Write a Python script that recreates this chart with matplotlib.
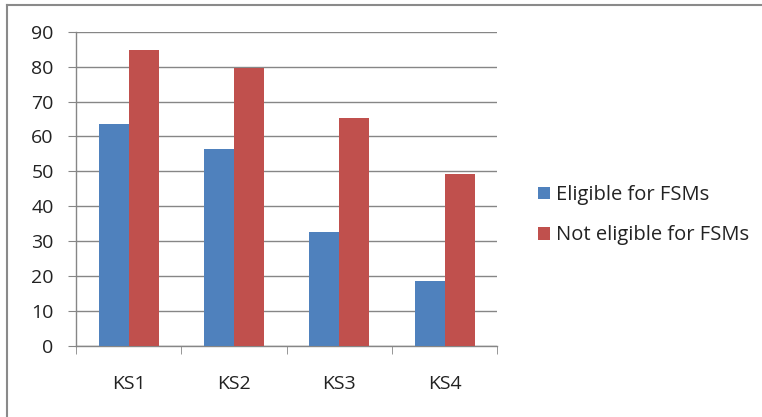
import numpy as np
import matplotlib
matplotlib.use('Agg')
import matplotlib.pyplot as plt
from matplotlib.lines import Line2D

# chart data
categories = ['KS1', 'KS2', 'KS3', 'KS4']
eligible = [63.6, 56.5, 32.7, 18.6]
not_eligible = [84.8, 79.7, 65.2, 49.2]
series_names = ['Eligible for FSMs', 'Not eligible for FSMs']

plt.rcParams['font.family'] = ['Open Sans', 'DejaVu Sans']

fig = plt.figure(figsize=(7.62, 4.17), dpi=100)
ax = fig.add_axes([0.0997, 0.170, 0.5529, 0.754])

grey = '#868686'
x = np.arange(len(categories))
w = 0.285
ax.bar(x - w / 2, eligible, w, color='#4F81BD', label=series_names[0], zorder=3)
ax.bar(x + w / 2, not_eligible, w, color='#C0504D', label=series_names[1], zorder=3)

ax.set_xlim(-0.5, len(categories) - 0.5)
ax.set_ylim(0, 90)
ax.set_yticks(range(0, 91, 10))
ax.yaxis.grid(True, color=grey, linewidth=1.0, zorder=0)
ax.set_axisbelow(True)

for s in ['top', 'right']:
    ax.spines[s].set_visible(False)
for s in ['left', 'bottom']:
    ax.spines[s].set_color(grey)
    ax.spines[s].set_linewidth(1.0)

ax.tick_params(axis='y', length=6, color=grey, labelsize=14, labelcolor='#222222', pad=10)
# category labels centered, tick marks at category boundaries
ax.set_xticks(x)
ax.set_xticklabels(categories)
ax.tick_params(axis='x', length=0, labelsize=14, labelcolor='#222222', pad=21)
ax.set_xticks(np.arange(-0.5, len(categories)), minor=True)
ax.tick_params(axis='x', which='minor', length=6, color=grey)

leg = fig.legend(loc='center left', bbox_to_anchor=(0.682, 0.484), frameon=False,
                 fontsize=14.5, handlelength=0.6, handleheight=0.6, handletextpad=0.3,
                 labelspacing=1.0, labelcolor='#222222')

# outer chart border (left and top visible)
fig.add_artist(Line2D([6.5 / 762, 6.5 / 762], [0, 1 - 5 / 417], transform=fig.transFigure,
                      color='#8a8a8a', linewidth=1.5))
fig.add_artist(Line2D([6.5 / 762, 1], [1 - 5 / 417, 1 - 5 / 417], transform=fig.transFigure,
                      color='#8a8a8a', linewidth=1.5))

fig.savefig('out.png', dpi=100)
